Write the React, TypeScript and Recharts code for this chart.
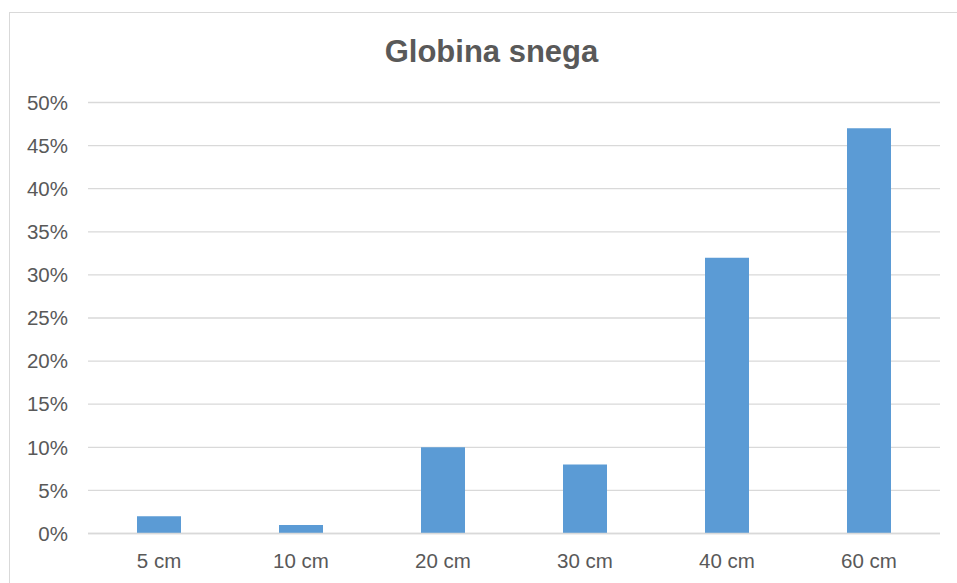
import { BarChart, Bar, XAxis, YAxis, CartesianGrid } from "recharts";

const categories = ["5 cm", "10 cm", "20 cm", "30 cm", "40 cm", "60 cm"];
const values = [2, 1, 10, 8, 32, 47];
const yTicks = [0, 5, 10, 15, 20, 25, 30, 35, 40, 45, 50];

const data = categories.map((c, i) => ({ name: c, value: values[i] }));

const textColor = "#595959";
const lineColor = "#D9D9D9";
const font = "'Liberation Sans', Arial, sans-serif";

const App = () => {
  return (
    <div style={{ position: "absolute", left: 0, top: 0, width: 957, height: 583, overflow: "hidden", background: "#fff" }}>
      <div
        style={{
          position: "absolute",
          left: 9,
          top: 12,
          width: 980,
          height: 600,
          border: `1px solid ${lineColor}`,
          boxSizing: "border-box",
        }}
      />
      <div
        style={{
          position: "absolute",
          left: 291.5,
          top: 34,
          width: 400,
          textAlign: "center",
          fontFamily: font,
          fontWeight: "bold",
          fontSize: 31,
          color: textColor,
        }}
      >
        Globina snega
      </div>
      <div style={{ position: "absolute", left: 0, top: 0 }}>
        <BarChart
          width={957}
          height={583}
          data={data}
          margin={{ top: 102.5, right: 17, bottom: 9.5, left: 0 }}
        >
          <CartesianGrid vertical={false} stroke={lineColor} strokeWidth={1.3} />
          <XAxis
            dataKey="name"
            height={40}
            axisLine={{ stroke: lineColor, strokeWidth: 1.3 }}
            tickLine={false}
            tickSize={0}
            tickMargin={20}
            tick={{ fill: textColor, fontSize: 20.5, fontFamily: font }}
            interval={0}
          />
          <YAxis
            width={88}
            domain={[0, 50]}
            ticks={yTicks}
            tickFormatter={(v) => `${v}%`}
            axisLine={false}
            tickLine={false}
            tickSize={0}
            tickMargin={20}
            tick={{ fill: textColor, fontSize: 20.5, fontFamily: font }}
            interval={0}
          />
          <Bar dataKey="value" fill="#5B9BD5" barSize={44} isAnimationActive={false} />
        </BarChart>
      </div>
    </div>
  );
};

export default App;
